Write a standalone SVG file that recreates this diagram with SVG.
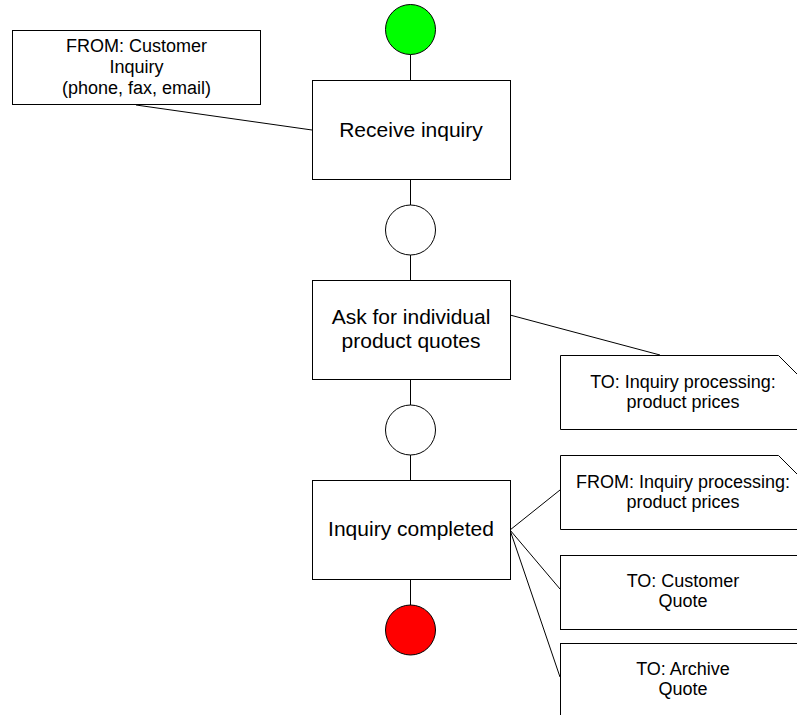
<svg xmlns="http://www.w3.org/2000/svg" width="797" height="715" viewBox="0 0 797 715">
<style>
.box{fill:#fff;stroke:#000;stroke-width:1}
.ev{stroke:#000;stroke-width:1}
.ln{stroke:#000;stroke-width:1;fill:none}
.t{font-family:"Liberation Sans",Arial,sans-serif;fill:#000;text-anchor:middle}
.big{font-size:21px}
.sm{font-size:18px}
</style>
<rect width="797" height="715" fill="#fff"/>
<g id="connectors">
<line class="ln" x1="410.5" y1="54.5" x2="410.5" y2="80"/>
<line class="ln" x1="410.5" y1="180" x2="410.5" y2="205"/>
<line class="ln" x1="410.5" y1="255" x2="410.5" y2="280"/>
<line class="ln" x1="410.5" y1="380" x2="410.5" y2="405"/>
<line class="ln" x1="410.5" y1="455" x2="410.5" y2="480"/>
<line class="ln" x1="410.5" y1="580" x2="410.5" y2="605"/>
<line class="ln" x1="136" y1="105" x2="312" y2="130"/>
<line class="ln" x1="510" y1="315" x2="660" y2="355"/>
<line class="ln" x1="510" y1="530" x2="560" y2="490"/>
<line class="ln" x1="510" y1="530" x2="560" y2="589"/>
<line class="ln" x1="510" y1="530" x2="560" y2="677"/>
</g>
<g id="start"><circle class="ev" cx="410.5" cy="29.5" r="25" fill="#00ff00"/></g>
<g id="from-customer">
<rect class="box" x="12.5" y="30.5" width="248" height="74"/>
<text class="t sm" x="136.5" y="52">FROM: Customer</text>
<text class="t sm" x="136.5" y="73">Inquiry</text>
<text class="t sm" x="136.5" y="94">(phone, fax, email)</text>
</g>
<g id="receive">
<rect class="box" x="312.5" y="80.5" width="198" height="99"/>
<text class="t big" x="411" y="137">Receive inquiry</text>
</g>
<g id="event1"><circle class="ev" cx="410.5" cy="230" r="25" fill="#fff"/></g>
<g id="ask">
<rect class="box" x="312.5" y="280.5" width="198" height="99"/>
<text class="t big" x="411" y="324">Ask for individual</text>
<text class="t big" x="411" y="348">product quotes</text>
</g>
<g id="event2"><circle class="ev" cx="410.5" cy="430" r="25" fill="#fff"/></g>
<g id="completed">
<rect class="box" x="312.5" y="480.5" width="198" height="99"/>
<text class="t big" x="411" y="536">Inquiry completed</text>
</g>
<g id="end"><circle class="ev" cx="410.5" cy="630" r="25" fill="#ff0000"/></g>
<g id="to-processing">
<polygon class="box" points="560.5,355.5 778.5,355.5 815,392 815,429.5 560.5,429.5"/>
<text class="t sm" x="683" y="387.5">TO: Inquiry processing:</text>
<text class="t sm" x="683" y="408">product prices</text>
</g>
<g id="from-processing">
<polygon class="box" points="560.5,455.5 778.5,455.5 815,492 815,529.5 560.5,529.5"/>
<text class="t sm" x="683" y="488">FROM: Inquiry processing:</text>
<text class="t sm" x="683" y="508">product prices</text>
</g>
<g id="to-customer">
<rect class="box" x="560.5" y="555.5" width="260" height="74"/>
<text class="t sm" x="683" y="587">TO: Customer</text>
<text class="t sm" x="683" y="607">Quote</text>
</g>
<g id="to-archive">
<rect class="box" x="560.5" y="643.5" width="260" height="100"/>
<text class="t sm" x="683" y="675">TO: Archive</text>
<text class="t sm" x="683" y="695">Quote</text>
</g>
</svg>
